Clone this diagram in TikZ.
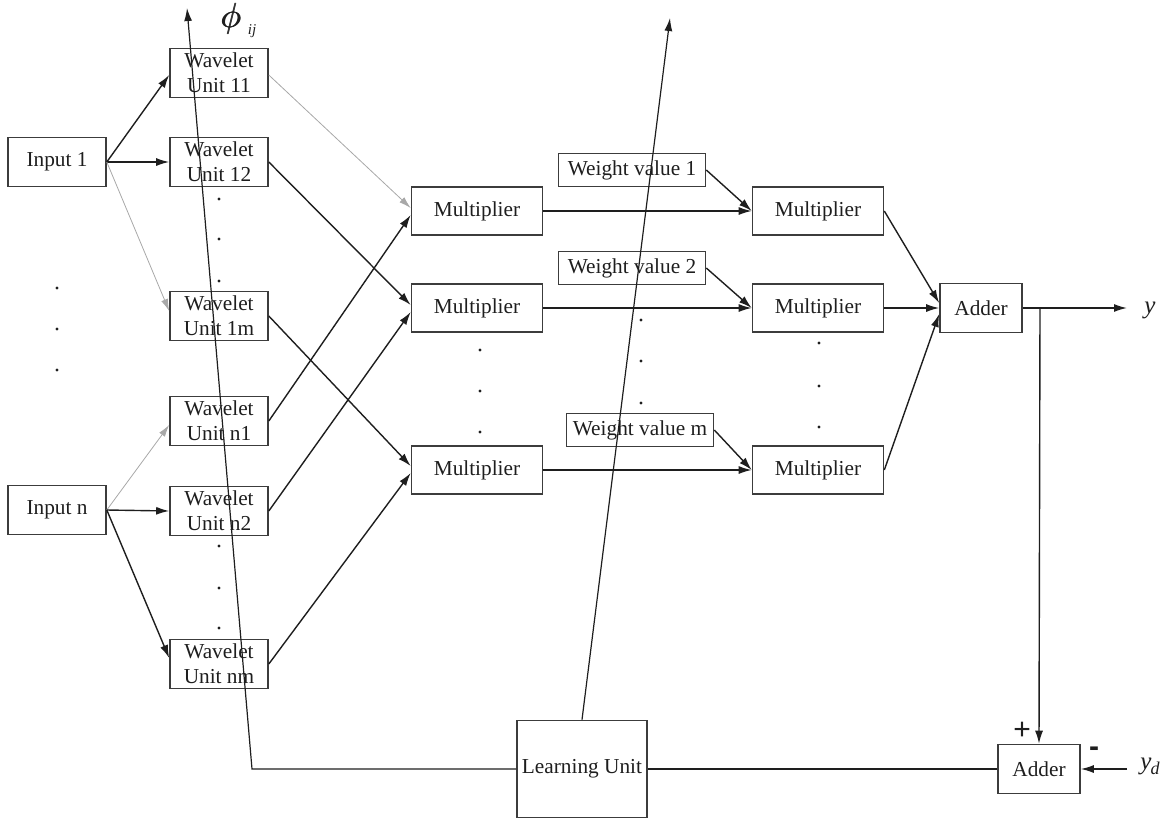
\documentclass[tikz,border=0pt]{standalone}
\usepackage{fontspec}
\setmainfont{Liberation Serif}
\newfontfamily\signfont{Liberation Sans}
\usetikzlibrary{arrows.meta}

\definecolor{edgegray}{HTML}{3C3C3C}
\definecolor{inkgray}{HTML}{1E1E1E}
\definecolor{faintgray}{HTML}{A8A8A8}

% heavier phi: the glyph set twice with a small offset
\newcommand{\heavyphi}{\rlap{$\phi$}\kern0.35pt\rlap{$\phi$}\kern0.35pt$\phi$}

\begin{document}
\begin{tikzpicture}[x=1pt,y=-1pt,
  box/.style={draw=edgegray, line width=1.6pt, inner sep=0pt, align=center,
    font=\fontsize{21.3}{25}\selectfont, text=inkgray},
  inbox/.style={box, minimum width=98pt, minimum height=49pt},
  wbox/.style={box, minimum width=98pt, minimum height=49pt},
  mbox/.style={box, minimum width=131pt, minimum height=48pt},
  valbox/.style={box, minimum width=147pt, minimum height=33pt},
  addbox/.style={box, minimum width=82pt, minimum height=49pt},
  link/.style={draw=inkgray, line width=1.4pt},
  arrow/.style={link, -{Latex[length=13pt,width=8pt]}},
  faint/.style={draw=faintgray, line width=0.8pt, -{Latex[length=12pt,width=7pt]}},
  pt/.style={circle, fill=inkgray, inner sep=0pt, minimum size=3.4pt},
]
\useasboundingbox (0,0) rectangle (1165,820);

% inputs
\node[inbox] (in1) at (57,162) {Input 1};
\node[inbox] (inn) at (57,510) {Input n};

% wavelet units
\node[wbox] (w11) at (219,73)  {Wavelet\\Unit 11};
\node[wbox] (w12) at (219,162) {Wavelet\\Unit 12};
\node[wbox] (w1m) at (219,316) {Wavelet\\Unit 1m};
\node[wbox] (wn1) at (219,421) {Wavelet\\Unit n1};
\node[wbox] (wn2) at (219,511) {Wavelet\\Unit n2};
\node[wbox] (wnm) at (219,664) {Wavelet\\Unit nm};

% first multiplier column
\node[mbox] (ma) at (477,211) {Multiplier};
\node[mbox] (mb) at (477,308) {Multiplier};
\node[mbox] (mc) at (477,470) {Multiplier};

% weights
\node[valbox] (v1) at (632,170) {Weight value 1};
\node[valbox] (v2) at (632,268) {Weight value 2};
\node[valbox] (vm) at (640,430) {Weight value m};

% second multiplier column
\node[mbox] (pa) at (818,211) {Multiplier};
\node[mbox] (pb) at (818,308) {Multiplier};
\node[mbox] (pc) at (818,470) {Multiplier};

% adders and learning unit
\node[addbox] (add) at (981,308) {Adder};
\node[addbox] (err) at (1039,769) {Adder};
\node[box, minimum width=130pt, minimum height=97pt] (lu) at (582,769) {Learning Unit};

% ellipsis dots
\foreach \x/\y in {57/288,57/329,57/370,
                   219/199,219/239,219/281,
                   219/546,219/588,219/628,
                   480/350,480/391,480/432,
                   641/320,641/361,641/403,
                   819/343,819/386,819/427}
  \node[pt] at (\x,\y) {};

% inputs to wavelet units
\draw[arrow] (in1.east) -- ([yshift=-2pt]w11.west);
\draw[arrow] (in1.east) -- (w12.west);
\draw[faint] (in1.east) -- ([yshift=5pt]w1m.west);
\draw[faint] (inn.east) -- ([yshift=-4pt]wn1.west);
\draw[arrow] (inn.east) -- (wn2.west);
\draw[arrow] (inn.east) -- ([yshift=6pt]wnm.west);

% wavelet units to first multipliers
\draw[faint] ([yshift=-2pt]w11.east) -- ([yshift=3pt]ma.west);
\draw[arrow] (w12.east) -- ([yshift=3pt]mb.west);
\draw[arrow] (w1m.east) -- ([yshift=4pt]mc.west);
\draw[arrow] (wn1.east) -- ([yshift=-4pt]ma.west);
\draw[arrow] (wn2.east) -- ([yshift=-4pt]mb.west);
\draw[arrow] (wnm.east) -- ([yshift=-3pt]mc.west);

% first to second multipliers
\draw[arrow] (ma.east) -- (pa.west);
\draw[arrow] (mb.east) -- (pb.west);
\draw[arrow] (mc.east) -- (pc.west);
\draw[arrow] (v1.east) -- (pa.west);
\draw[arrow] (v2.east) -- (pb.west);
\draw[arrow] (vm.east) -- (pc.west);

% into the adder
\draw[arrow] (pa.east) -- ([yshift=5pt]add.west);
\draw[arrow] (pb.east) -- (add.west);
\draw[arrow] (pc.east) -- ([yshift=-6pt]add.west);

% output and error
\coordinate (yout) at (1127,308);
\coordinate (split) at (1040,308);
\coordinate (ydin) at (1127,769);
\draw[arrow] (add.east) -- (yout);
\draw[arrow] (split) -- (err.north);
\draw[arrow] (ydin) -- (err.east);
\node[font=\fontsize{25}{25}\selectfont\itshape, text=inkgray] at (1150,310) {y};
\node[font=\fontsize{25}{25}\selectfont\itshape, text=inkgray] at (1150,766) {y\kern-1pt\raisebox{-5pt}{\fontsize{18}{18}\selectfont d}};
\node[font=\signfont\fontsize{30}{30}\selectfont, text=inkgray] at (1022,731) {+};
\node[font=\signfont\bfseries\fontsize{30}{30}\selectfont, text=inkgray] at (1094,752) {-};

% learning feedback
\coordinate (corner) at (252,769);
\coordinate (phitip) at (187,8);
\coordinate (wtip) at (670,18);
\draw[link] (err.west) -- (lu.east);
\draw[link, line width=1.2pt, -{Latex[length=13pt,width=8pt]}] (lu.west) -- (corner) -- (phitip);
\draw[link, line width=1.2pt, -{Latex[length=13pt,width=8pt]}] (lu.north) -- (wtip);

% parameter label
\node[text=inkgray] at (231,19) {\scalebox{1.4}{\fontsize{24}{24}\selectfont\heavyphi}};
\node[text=inkgray, font=\fontsize{15}{15}\selectfont\itshape] at (252,31) {ij};
\end{tikzpicture}
\end{document}
